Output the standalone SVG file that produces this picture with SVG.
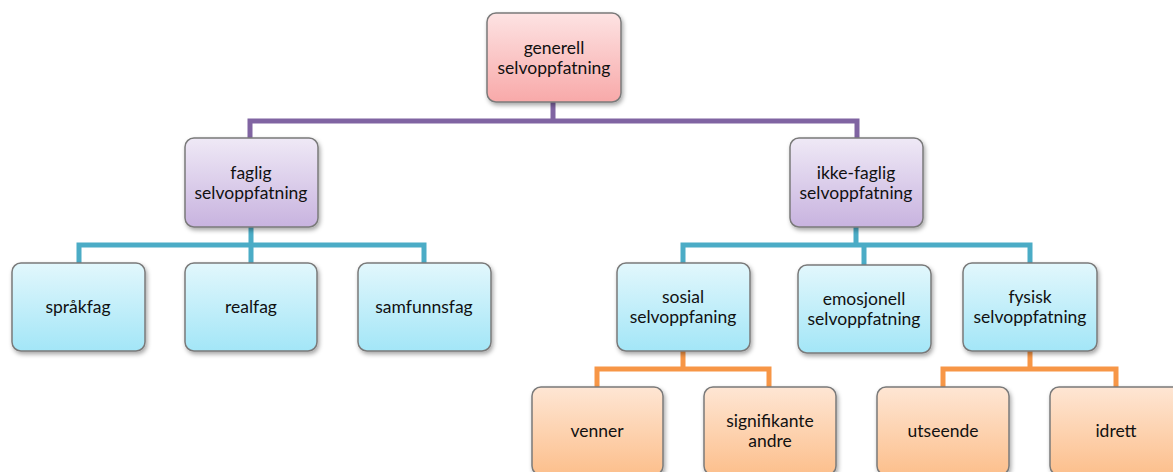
<svg xmlns="http://www.w3.org/2000/svg" width="1173" height="472" viewBox="0 0 1173 472">
<style>
.box{stroke:#7a7a7a;stroke-width:1.5;filter:url(#sh)}
.pink{fill:url(#gPink)}
.purple{fill:url(#gPurple)}
.blue{fill:url(#gBlue)}
.orange{fill:url(#gOrange)}
.t{font-family:Lato,"Liberation Sans",sans-serif;font-size:17.5px;fill:#111;text-anchor:middle}
.cp{stroke:#8064a2;stroke-width:5;fill:none}
.cb{stroke:#4bacc6;stroke-width:5;fill:none}
.co{stroke:#f79646;stroke-width:5;fill:none}
</style>
<defs>
<linearGradient id="gPink" x1="0" y1="0" x2="0" y2="1"><stop offset="0" stop-color="#fde3e3"/><stop offset="1" stop-color="#f8a9a9"/></linearGradient>
<linearGradient id="gPurple" x1="0" y1="0" x2="0" y2="1"><stop offset="0" stop-color="#efe9f6"/><stop offset="1" stop-color="#c8b3df"/></linearGradient>
<linearGradient id="gBlue" x1="0" y1="0" x2="0" y2="1"><stop offset="0" stop-color="#e2f7fc"/><stop offset="1" stop-color="#a3e6f7"/></linearGradient>
<linearGradient id="gOrange" x1="0" y1="0" x2="0" y2="1"><stop offset="0" stop-color="#fee6d4"/><stop offset="1" stop-color="#fcbf8c"/></linearGradient>
<filter id="sh" x="-10%" y="-10%" width="130%" height="130%"><feDropShadow dx="1.5" dy="2.5" stdDeviation="2" flood-color="#000" flood-opacity="0.35"/></filter>
</defs>
<g id="connectors">
<path class="cp" d="M553,102 V121 M250,140 V121 H857 V140"/>
<path class="cb" d="M251,227 V245 M79,263 V245 H424 V263 M251,245 V263"/>
<path class="cb" d="M856,227 V245 M683,263 V245 H1030 V263 M864,245 V265"/>
<path class="co" d="M683,351 V369 M597,387 V369 H769 V387"/>
<path class="co" d="M1030,351 V369 M943,387 V369 H1116 V387"/>
</g>
<g id="n-generell"><rect class="box pink" x="487" y="13" width="134" height="89" rx="9"/><text class="t" x="554" y="54">generell</text><text class="t" x="554" y="74">selvoppfatning</text></g>
<g id="n-faglig"><rect class="box purple" x="185" y="138" width="133" height="89" rx="9"/><text class="t" x="251" y="179">faglig</text><text class="t" x="251" y="199">selvoppfatning</text></g>
<g id="n-ikkefaglig"><rect class="box purple" x="790" y="138" width="133" height="89" rx="9"/><text class="t" x="856" y="179">ikke-faglig</text><text class="t" x="856" y="199">selvoppfatning</text></g>
<g id="n-sprakfag"><rect class="box blue" x="12" y="263" width="133" height="88" rx="9"/><text class="t" x="78" y="313">språkfag</text></g>
<g id="n-realfag"><rect class="box blue" x="185" y="263" width="132" height="88" rx="9"/><text class="t" x="251" y="313">realfag</text></g>
<g id="n-samfunnsfag"><rect class="box blue" x="358" y="263" width="133" height="88" rx="9"/><text class="t" x="424" y="313">samfunnsfag</text></g>
<g id="n-sosial"><rect class="box blue" x="617" y="263" width="133" height="88" rx="9"/><text class="t" x="683" y="303">sosial</text><text class="t" x="683" y="323">selvoppfaning</text></g>
<g id="n-emosjonell"><rect class="box blue" x="798" y="265" width="133" height="88" rx="9"/><text class="t" x="864" y="305">emosjonell</text><text class="t" x="864" y="325">selvoppfatning</text></g>
<g id="n-fysisk"><rect class="box blue" x="963" y="263" width="134" height="88" rx="9"/><text class="t" x="1030" y="303">fysisk</text><text class="t" x="1030" y="323">selvoppfatning</text></g>
<g id="n-venner"><rect class="box orange" x="532" y="387" width="131" height="88" rx="9"/><text class="t" x="597" y="437">venner</text></g>
<g id="n-signifikante"><rect class="box orange" x="704" y="387" width="132" height="88" rx="9"/><text class="t" x="770" y="427">signifikante</text><text class="t" x="770" y="447">andre</text></g>
<g id="n-utseende"><rect class="box orange" x="877" y="387" width="132" height="88" rx="9"/><text class="t" x="943" y="437">utseende</text></g>
<g id="n-idrett"><rect class="box orange" x="1050" y="387" width="132" height="88" rx="9"/><text class="t" x="1116" y="437">idrett</text></g>
</svg>
